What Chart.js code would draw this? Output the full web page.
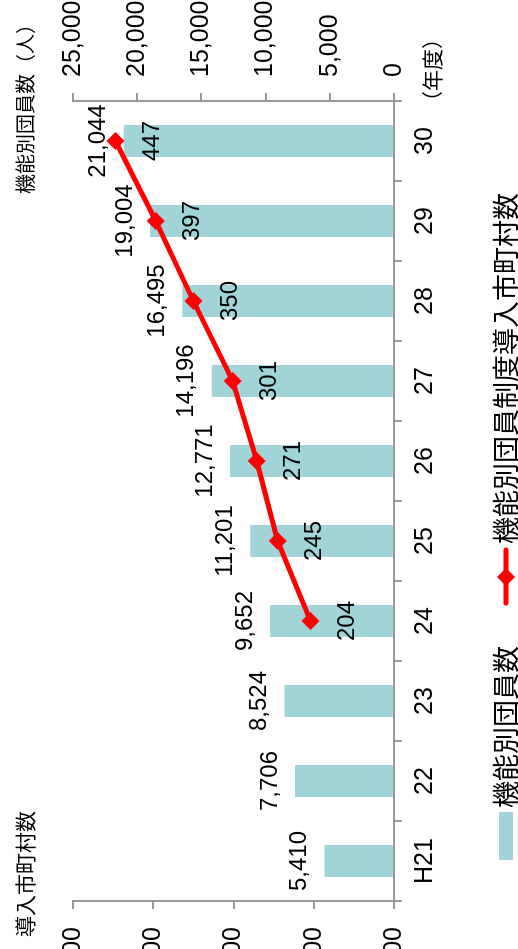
<!DOCTYPE html>
<html>
<head>
<meta charset="utf-8">
<script src="https://cdn.jsdelivr.net/npm/chart.js@4.4.0/dist/chart.umd.min.js"></script>
<style>
  html, body { margin: 0; padding: 0; width: 518px; height: 949px; overflow: hidden; background: #fff; }
  /* chart is drawn landscape, then turned a quarter to the left */
  #rot { position: absolute; left: 0; top: 0; width: 1000px; height: 518px;
         transform-origin: 0 0; transform: translateY(1000px) rotate(-90deg); }
</style>
</head>
<body>
<div id="rot"><canvas id="c" width="1000" height="518"></canvas></div>
<script>
const years = ['H21', '22', '23', '24', '25', '26', '27', '28', '29', '30'];
const members = [5410, 7706, 8524, 9652, 11201, 12771, 14196, 16495, 19004, 21044];
const towns = [null, null, null, 204, 245, 271, 301, 350, 397, 447];

const memberLabel = '機能別団員数';
const townLabel = '機能別団員制度導入市町村数';

const NUM = '"Liberation Sans", Arial, sans-serif';
const JP = '"Noto Sans CJK JP", sans-serif';
const AXIS = '#999';
const BAR = '#a0d4d8';
const RED = '#ff0000';

const gridOpts = { display: true, drawOnChartArea: false, drawTicks: true, tickLength: 8, color: AXIS, lineWidth: 2 };

const textPlugin = {
  id: 'texts',
  afterDatasetsDraw(chart) {
    const ctx = chart.ctx;
    ctx.save();
    ctx.fillStyle = '#000';
    ctx.textAlign = 'center';
    ctx.textBaseline = 'middle';
    ctx.font = '24px ' + NUM;
    chart.getDatasetMeta(1).data.forEach((el, i) => {
      ctx.fillText(members[i].toLocaleString('en-US'), el.x, el.y - 25);
    });
    chart.getDatasetMeta(0).data.forEach((el, i) => {
      if (towns[i] == null) return;
      ctx.fillText(String(towns[i]), el.x, el.y + 37);
    });

    // axis titles
    ctx.font = '21px ' + JP;
    ctx.textAlign = 'left';
    ctx.fillText('導入市町村数', 63, 25);
    ctx.font = '20px ' + JP;
    ctx.fillText('機能別団員数（人）', 806, 25);
    ctx.font = '21px ' + JP;
    ctx.fillText('（年度）', 888, 432);

    // legend
    const ly = 506;
    ctx.fillStyle = BAR;
    ctx.fillRect(140, ly - 7, 48, 14);
    ctx.fillStyle = '#000';
    ctx.font = '27px ' + JP;
    ctx.fillText(memberLabel, 192, ly);

    ctx.strokeStyle = RED;
    ctx.lineWidth = 5;
    ctx.lineCap = 'round';
    ctx.beginPath();
    ctx.moveTo(397, ly);
    ctx.lineTo(450, ly);
    ctx.stroke();
    ctx.fillStyle = RED;
    ctx.beginPath();
    ctx.moveTo(423, ly - 9);
    ctx.lineTo(432, ly);
    ctx.lineTo(423, ly + 9);
    ctx.lineTo(414, ly);
    ctx.closePath();
    ctx.fill();
    ctx.fillStyle = '#000';
    ctx.fillText(townLabel, 456, ly);
    ctx.restore();
  }
};

new Chart(document.getElementById('c'), {
  type: 'bar',
  data: {
    labels: years,
    datasets: [
      {
        type: 'line',
        label: townLabel,
        data: towns,
        yAxisID: 'yTown',
        borderColor: RED,
        backgroundColor: RED,
        borderWidth: 5,
        pointStyle: 'rectRot',
        pointRadius: 9,
        pointBorderWidth: 0,
        pointBackgroundColor: RED,
        order: 0
      },
      {
        label: memberLabel,
        data: members,
        yAxisID: 'yMem',
        backgroundColor: BAR,
        barPercentage: 0.4,
        categoryPercentage: 1,
        order: 1
      }
    ]
  },
  options: {
    responsive: false,
    animation: false,
    devicePixelRatio: 1,
    layout: { padding: { top: 73, bottom: 74, left: 0, right: 0 } },
    plugins: { legend: { display: false }, tooltip: { enabled: false } },
    scales: {
      x: {
        offset: true,
        grid: Object.assign({}, gridOpts, { offset: true }),
        border: { display: true, color: AXIS, width: 2 },
        ticks: { color: '#000', font: { family: NUM, size: 25 }, padding: 8, maxRotation: 0, autoSkip: false },
        afterFit: s => { s.height = 50; }
      },
      yTown: {
        position: 'left',
        min: 100,
        max: 500,
        grid: gridOpts,
        border: { display: true, color: AXIS, width: 2 },
        ticks: { stepSize: 100, color: '#000', font: { family: NUM, size: 25 }, padding: 18 },
        afterFit: s => { s.width = 99; }
      },
      yMem: {
        position: 'right',
        min: 0,
        max: 25000,
        grid: gridOpts,
        border: { display: true, color: AXIS, width: 2 },
        ticks: { stepSize: 5000, color: '#000', font: { family: NUM, size: 25 }, padding: 16,
                 callback: v => v.toLocaleString('en-US') },
        afterFit: s => { s.width = 101; }
      }
    }
  },
  plugins: [textPlugin]
});
</script>
</body>
</html>
